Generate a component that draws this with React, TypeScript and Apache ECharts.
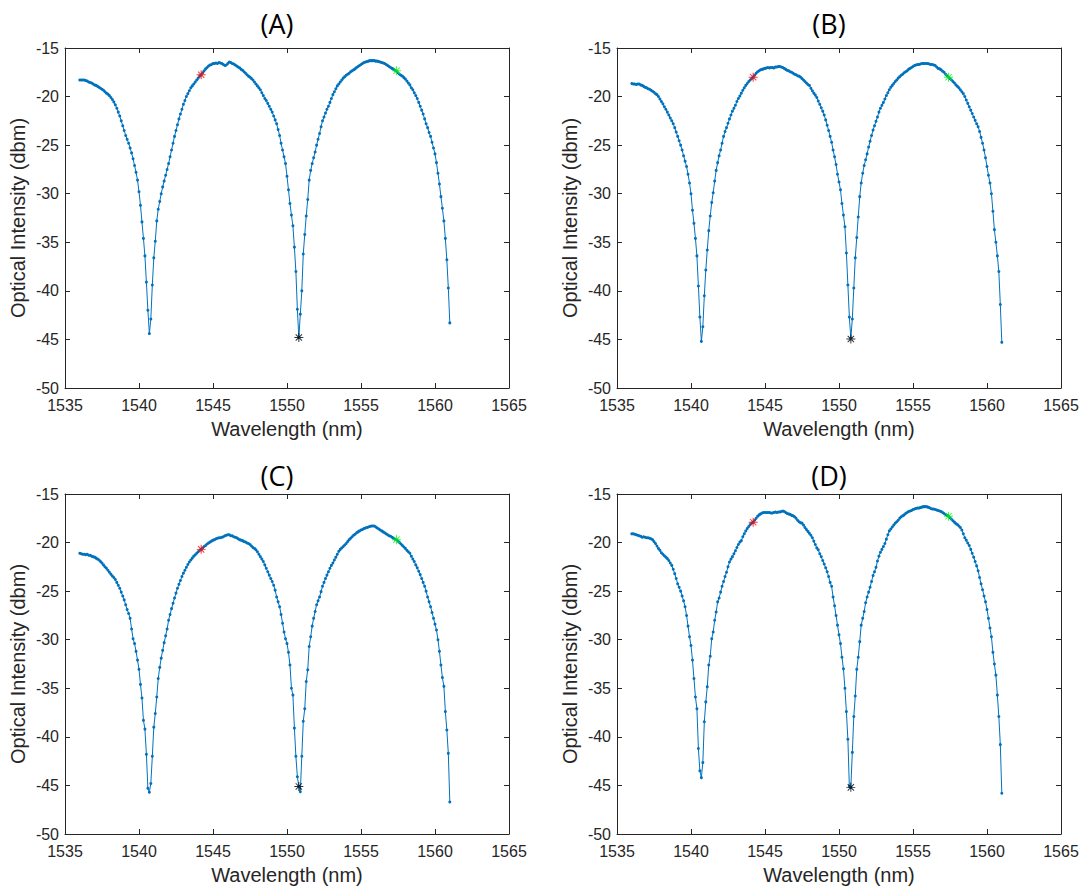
import React, { useEffect, useRef } from "react";
import * as echarts from "echarts";

// Sampling grid of the spectra (nm): evenly spaced points, 1536.0 .. 1561.0
const WL_START = 1536.0;
const WL_STEP = 0.1;

const PANEL_TITLES = ["(A)", "(B)", "(C)", "(D)"];
const X_NAME = "Wavelength (nm)";
const Y_NAME = "Optical Intensity (dbm)";

// Optical intensity (dBm) per panel, one row per nm (10 samples each)
const SPEC_A = [
  -18.3, -18.3, -18.3, -18.3, -18.35, -18.4, -18.5, -18.55, -18.6, -18.7,
  -18.8, -18.85, -18.95, -19.05, -19.15, -19.25, -19.35, -19.5, -19.65, -19.75,
  -19.9, -20.1, -20.3, -20.55, -20.85, -21.2, -21.6, -22.0, -22.5, -23.0,
  -23.5, -24.0, -24.4, -24.8, -25.3, -25.8, -26.4, -27.1, -27.8, -28.6,
  -29.8, -31.2, -32.9, -34.6, -36.4, -39.1, -42.0, -44.4, -42.9, -39.4,
  -36.6, -34.9, -32.8, -31.6, -30.8, -30.0, -29.3, -28.7, -28.1, -27.5,
  -26.9, -26.2, -25.5, -24.8, -24.1, -23.5, -22.9, -22.3, -21.8, -21.3,
  -20.8, -20.4, -20.0, -19.7, -19.4, -19.1, -18.9, -18.7, -18.5, -18.3,
  -18.1, -17.9, -17.75, -17.55, -17.35, -17.15, -17.0, -16.85, -16.75, -16.7,
  -16.6, -16.6, -16.55, -16.6, -16.5, -16.55, -16.6, -16.7, -16.8, -16.75,
  -16.6, -16.45, -16.5, -16.6, -16.65, -16.75, -16.85, -16.95, -17.05, -17.2,
  -17.3, -17.45, -17.6, -17.75, -17.9, -18.0, -18.15, -18.3, -18.5, -18.7,
  -18.9, -19.1, -19.3, -19.6, -19.9, -20.2, -20.4, -20.7, -21.0, -21.3,
  -21.6, -22.0, -22.4, -22.8, -23.4, -24.0, -24.8, -25.5, -26.2, -26.9,
  -28.2, -29.6, -31.0, -32.2, -33.3, -35.5, -38.0, -41.9, -44.8, -42.4,
  -40.0, -36.2, -34.2, -32.3, -30.6, -28.6, -27.6, -26.9, -26.3, -25.7,
  -25.0, -24.4, -23.8, -23.1, -22.5, -22.1, -21.7, -21.3, -21.0, -20.6,
  -20.2, -19.8, -19.5, -19.2, -18.9, -18.7, -18.5, -18.3, -18.1, -17.95,
  -17.8, -17.7, -17.6, -17.45, -17.35, -17.25, -17.15, -17.0, -16.9, -16.8,
  -16.7, -16.6, -16.5, -16.45, -16.4, -16.35, -16.3, -16.3, -16.3, -16.3,
  -16.35, -16.35, -16.4, -16.45, -16.5, -16.55, -16.6, -16.7, -16.8, -16.9,
  -17.0, -17.1, -17.2, -17.3, -17.4, -17.55, -17.7, -17.8, -17.9, -18.05,
  -18.2, -18.4, -18.6, -18.8, -19.1, -19.3, -19.6, -19.9, -20.2, -20.6,
  -21.0, -21.4, -21.8, -22.3, -22.8, -23.2, -23.7, -24.1, -24.7, -25.3,
  -25.9, -26.8, -27.9, -29.0, -30.3, -31.5, -32.8, -34.6, -36.8, -39.7,
  -43.3,
];

const SPEC_B = [
  -18.65, -18.7, -18.7, -18.75, -18.7, -18.7, -18.8, -18.85, -18.95, -19.05,
  -19.1, -19.2, -19.25, -19.35, -19.45, -19.55, -19.7, -19.8, -20.0, -20.25,
  -20.5, -20.75, -21.05, -21.3, -21.6, -21.9, -22.2, -22.5, -22.8, -23.2,
  -23.65, -24.1, -24.55, -25.0, -25.5, -26.1, -26.65, -27.2, -28.0, -28.9,
  -30.0, -31.7, -33.05, -34.6, -36.4, -39.5, -42.7, -45.2, -43.7, -40.5,
  -37.85, -35.8, -33.8, -32.3, -30.9, -29.9, -28.7, -27.6, -26.8, -26.1,
  -25.5, -24.8, -24.1, -23.6, -23.2, -22.75, -22.3, -21.9, -21.5, -21.2,
  -20.9, -20.5, -20.2, -19.95, -19.65, -19.35, -19.1, -18.85, -18.65, -18.45,
  -18.3, -18.15, -18.0, -17.8, -17.6, -17.45, -17.35, -17.25, -17.2, -17.15,
  -17.1, -17.05, -17.0, -17.05, -17.0, -17.0, -17.05, -16.95, -16.95, -16.9,
  -16.9, -16.95, -17.0, -17.1, -17.2, -17.3, -17.35, -17.45, -17.5, -17.6,
  -17.7, -17.75, -17.85, -17.9, -18.0, -18.15, -18.3, -18.45, -18.6, -18.75,
  -18.85, -19.15, -19.4, -19.65, -19.85, -20.1, -20.45, -20.8, -21.15, -21.5,
  -21.9, -22.4, -22.95, -23.5, -24.1, -24.7, -25.5, -26.2, -27.0, -28.0,
  -28.8, -29.6, -31.0, -32.2, -33.4, -36.1, -39.4, -42.7, -44.9, -42.9,
  -39.7, -36.6, -34.5, -32.4, -30.3, -28.9, -27.9, -27.1, -26.5, -25.9,
  -25.2, -24.6, -24.0, -23.45, -23.0, -22.55, -22.1, -21.6, -21.2, -20.9,
  -20.6, -20.25, -19.9, -19.6, -19.3, -19.05, -18.85, -18.65, -18.45, -18.3,
  -18.1, -17.95, -17.8, -17.7, -17.55, -17.45, -17.35, -17.2, -17.1, -17.0,
  -16.9, -16.8, -16.75, -16.7, -16.7, -16.65, -16.6, -16.6, -16.6, -16.6,
  -16.6, -16.65, -16.7, -16.7, -16.75, -16.8, -16.95, -17.1, -17.15, -17.25,
  -17.4, -17.5, -17.7, -17.85, -18.0, -18.15, -18.3, -18.45, -18.6, -18.8,
  -18.95, -19.1, -19.3, -19.5, -19.7, -20.0, -20.35, -20.7, -21.05, -21.4,
  -21.75, -22.1, -22.45, -22.8, -23.1, -23.6, -24.2, -24.8, -25.5, -26.3,
  -27.2, -28.1, -28.9, -30.0, -31.8, -33.7, -35.0, -36.4, -38.0, -41.4,
  -45.3,
];

const SPEC_C = [
  -21.1, -21.15, -21.2, -21.2, -21.25, -21.2, -21.3, -21.3, -21.4, -21.45,
  -21.5, -21.6, -21.7, -21.8, -21.95, -22.1, -22.3, -22.5, -22.65, -22.85,
  -23.05, -23.25, -23.45, -23.6, -23.8, -24.1, -24.4, -24.7, -25.1, -25.5,
  -25.9, -26.4, -26.9, -27.3, -27.8, -28.9, -29.9, -30.4, -31.2, -32.1,
  -33.05, -34.6, -36.0, -38.3, -39.2, -41.8, -45.3, -45.7, -44.8, -42.0,
  -39.0, -37.6, -35.9, -34.0, -32.85, -31.9, -31.1, -30.3, -29.6, -28.9,
  -28.0, -27.4, -26.8, -26.25, -25.7, -25.2, -24.7, -24.3, -23.9, -23.5,
  -23.15, -22.85, -22.55, -22.25, -22.0, -21.8, -21.6, -21.4, -21.25, -21.1,
  -20.95, -20.8, -20.7, -20.55, -20.4, -20.3, -20.15, -20.05, -19.95, -19.85,
  -19.75, -19.7, -19.6, -19.55, -19.5, -19.5, -19.45, -19.4, -19.3, -19.25,
  -19.2, -19.2, -19.3, -19.3, -19.4, -19.45, -19.5, -19.6, -19.7, -19.75,
  -19.8, -19.9, -19.95, -20.05, -20.1, -20.2, -20.35, -20.5, -20.6, -20.75,
  -20.95, -21.2, -21.45, -21.7, -21.95, -22.3, -22.65, -23.0, -23.35, -23.7,
  -24.0, -24.4, -24.9, -25.6, -26.1, -26.6, -27.4, -28.3, -29.2, -29.9,
  -30.4, -31.3, -32.6, -35.0, -35.7, -39.1, -42.0, -44.1, -45.1, -45.65,
  -42.0, -38.4, -37.1, -34.3, -33.1, -30.7, -29.7, -28.6, -27.8, -27.1,
  -26.4, -26.0, -25.6, -25.05, -24.5, -24.1, -23.7, -23.35, -23.0, -22.65,
  -22.35, -22.1, -21.8, -21.5, -21.2, -20.9, -20.7, -20.55, -20.4, -20.25,
  -20.1, -19.9, -19.7, -19.55, -19.4, -19.25, -19.15, -19.0, -18.9, -18.8,
  -18.7, -18.65, -18.55, -18.5, -18.45, -18.4, -18.35, -18.3, -18.3, -18.3,
  -18.4, -18.5, -18.6, -18.7, -18.8, -18.9, -19.0, -19.1, -19.2, -19.3,
  -19.35, -19.45, -19.55, -19.65, -19.7, -19.85, -20.0, -20.15, -20.3, -20.45,
  -20.6, -20.8, -20.95, -21.1, -21.4, -21.7, -21.95, -22.3, -22.6, -22.95,
  -23.3, -23.7, -24.1, -24.5, -25.0, -25.6, -26.1, -26.6, -27.2, -27.8,
  -28.4, -29.0, -30.0, -31.2, -32.6, -33.9, -34.8, -37.4, -39.3, -41.7,
  -46.7,
];

const SPEC_D = [
  -19.1, -19.1, -19.15, -19.2, -19.25, -19.3, -19.35, -19.45, -19.4, -19.45,
  -19.5, -19.5, -19.55, -19.6, -19.7, -19.9, -20.1, -20.35, -20.6, -20.8,
  -21.05, -21.2, -21.35, -21.5, -21.65, -21.85, -22.1, -22.35, -22.75, -23.2,
  -23.7, -24.25, -24.6, -25.0, -25.5, -26.0, -26.6, -27.5, -28.6, -29.7,
  -30.6, -32.1, -34.0, -35.9, -37.1, -41.2, -43.5, -44.2, -42.65, -38.45,
  -36.4, -34.85, -32.6, -31.7, -29.9, -29.2, -28.0, -27.15, -26.1, -25.7,
  -25.1, -24.5, -24.0, -23.5, -23.05, -22.5, -22.0, -21.7, -21.45, -21.15,
  -20.85, -20.5, -20.2, -19.95, -19.8, -19.4, -19.1, -18.8, -18.55, -18.35,
  -18.15, -18.0, -17.9, -17.7, -17.5, -17.3, -17.15, -17.05, -16.95, -16.9,
  -16.9, -16.9, -16.9, -16.9, -16.95, -16.95, -16.9, -16.85, -16.9, -16.85,
  -16.85, -16.8, -16.75, -16.8, -16.9, -17.0, -17.05, -17.1, -17.2, -17.25,
  -17.35, -17.5, -17.7, -17.85, -17.95, -18.0, -18.2, -18.45, -18.65, -18.85,
  -19.05, -19.25, -19.5, -19.85, -20.2, -20.55, -20.75, -21.15, -21.45, -21.85,
  -22.2, -22.6, -23.0, -23.5, -24.1, -24.5, -25.6, -26.5, -27.5, -28.5,
  -29.5, -30.4, -31.8, -33.0, -35.0, -37.4, -40.25, -45.1, -45.2, -41.6,
  -37.9, -35.8, -33.05, -31.8, -30.2, -28.5, -27.8, -27.1, -26.2, -25.6,
  -25.1, -24.6, -24.0, -23.4, -23.0, -22.55, -21.9, -21.4, -21.0, -20.7,
  -20.4, -20.1, -19.65, -19.2, -18.8, -18.6, -18.4, -18.2, -18.0, -17.85,
  -17.7, -17.5, -17.35, -17.25, -17.15, -17.0, -16.9, -16.8, -16.75, -16.7,
  -16.6, -16.55, -16.5, -16.45, -16.45, -16.4, -16.35, -16.3, -16.3, -16.3,
  -16.35, -16.4, -16.5, -16.55, -16.55, -16.6, -16.65, -16.7, -16.75, -16.8,
  -16.9, -17.0, -17.1, -17.2, -17.3, -17.45, -17.6, -17.75, -17.9, -18.05,
  -18.15, -18.3, -18.45, -18.7, -19.1, -19.5, -19.75, -20.05, -20.3, -20.7,
  -21.1, -21.5, -21.95, -22.4, -22.9, -23.6, -24.25, -24.85, -25.5, -26.1,
  -26.9, -27.8, -28.8, -29.7, -31.3, -32.5, -33.65, -35.7, -37.9, -40.8,
  -45.8,
];

// Highlighted points (*) per panel A..D
const RED_X = 1544.2;
const GREEN_X = 1557.4;
const BLACK_X = 1550.8;
const RED_Y = [-17.75, -18.0, -20.7, -17.9];
const GREEN_Y = [-17.35, -18.0, -19.7, -17.3];
const BLACK_Y = [-44.8, -44.95, -45.1, -45.2];

const SPECTRA = [SPEC_A, SPEC_B, SPEC_C, SPEC_D];

const X_MIN = 1535, X_MAX = 1565, X_INT = 5;
const Y_MIN = -50, Y_MAX = -15, Y_INT = 5;

const STAR =
  "path://M-5,-0.55L5,-0.55L5,0.55L-5,0.55Z" +
  "M-0.55,-5L0.55,-5L0.55,5L-0.55,5Z" +
  "M-3.9,-3.12L3.12,3.9L3.9,3.12L-3.12,-3.9Z" +
  "M-3.9,3.12L3.12,-3.9L3.9,-3.12L-3.12,3.9Z";

const AX = "#262626";
const FONT = "'Liberation Sans', Arial, Helvetica, sans-serif";

export default function App() {
  const ref = useRef<HTMLDivElement>(null);
  useEffect(() => {
    if (!ref.current) return;
    const chart = echarts.init(ref.current, undefined, { renderer: "svg" });

    const grids = [
      { left: 65, top: 48, width: 444, height: 340 },
      { left: 617, top: 48, width: 444, height: 340 },
      { left: 65, top: 494, width: 444, height: 340 },
      { left: 617, top: 494, width: 444, height: 340 },
    ];
    const titlePos = [
      [277, 23],
      [829, 23],
      [277, 475],
      [829, 475],
    ];

    const xAxes: any[] = [];
    const yAxes: any[] = [];
    const series: any[] = [];

    grids.forEach((g, gi) => {
      const tick = { show: true, inside: true, length: 5, lineStyle: { color: AX, width: 1 } };
      const line = { show: true, onZero: false, lineStyle: { color: AX, width: 1 } };
      xAxes.push({
        gridIndex: gi, type: "value", min: X_MIN, max: X_MAX, interval: X_INT, position: "bottom",
        axisLine: line, axisTick: tick, splitLine: { show: false },
        axisLabel: { color: AX, fontSize: 16, fontFamily: FONT, margin: 9, formatter: (v: number) => String(v) },
        name: X_NAME, nameLocation: "middle", nameGap: 31,
        nameTextStyle: { color: AX, fontSize: 20, fontFamily: FONT },
      });
      xAxes.push({
        gridIndex: gi, type: "value", min: X_MIN, max: X_MAX, interval: X_INT, position: "top",
        axisLine: line, axisTick: tick, splitLine: { show: false }, axisLabel: { show: false },
      });
      yAxes.push({
        gridIndex: gi, type: "value", min: Y_MIN, max: Y_MAX, interval: Y_INT, position: "left",
        axisLine: line, axisTick: tick, splitLine: { show: false },
        axisLabel: { color: AX, fontSize: 16, fontFamily: FONT, margin: 6, formatter: (v: number) => String(v) },
        name: Y_NAME, nameLocation: "middle", nameGap: 37,
        nameTextStyle: { color: AX, fontSize: 20, fontFamily: FONT },
      });
      yAxes.push({
        gridIndex: gi, type: "value", min: Y_MIN, max: Y_MAX, interval: Y_INT, position: "right",
        axisLine: line, axisTick: tick, splitLine: { show: false }, axisLabel: { show: false },
      });

      const ys = SPECTRA[gi];
      const data = ys.map((v, i) => [+(WL_START + i * WL_STEP).toFixed(1), v]);
      series.push({
        type: "line", xAxisIndex: gi * 2, yAxisIndex: gi * 2, data,
        showAllSymbol: true, symbol: "circle", symbolSize: 3,
        lineStyle: { color: "#0072BD", width: 1 },
        itemStyle: { color: "#0072BD" },
        silent: true, z: 2,
      });
      series.push({
        type: "scatter", xAxisIndex: gi * 2, yAxisIndex: gi * 2,
        symbol: STAR, symbolSize: 9, silent: true, z: 5,
        data: [
          { value: [RED_X, RED_Y[gi]], itemStyle: { color: "#FF0000" } },
          { value: [GREEN_X, GREEN_Y[gi]], itemStyle: { color: "#00FF00" } },
          { value: [BLACK_X, BLACK_Y[gi]], itemStyle: { color: "#000000" } },
        ],
      });
    });

    chart.setOption({
      animation: false,
      backgroundColor: "#ffffff",
      grid: grids,
      xAxis: xAxes,
      yAxis: yAxes,
      series,
      graphic: PANEL_TITLES.map((t, i) => ({
        type: "text",
        x: titlePos[i][0],
        y: titlePos[i][1],
        style: {
          text: t, fill: "#000000", fontSize: 27, fontFamily: "'Open Sans', 'Noto Sans', sans-serif",
          textAlign: "center", textVerticalAlign: "middle",
        },
      })),
    });
    return () => chart.dispose();
  }, []);
  return <div ref={ref} style={{ position: "absolute", left: 0, top: 0, width: 1086, height: 892 }} />;
}
